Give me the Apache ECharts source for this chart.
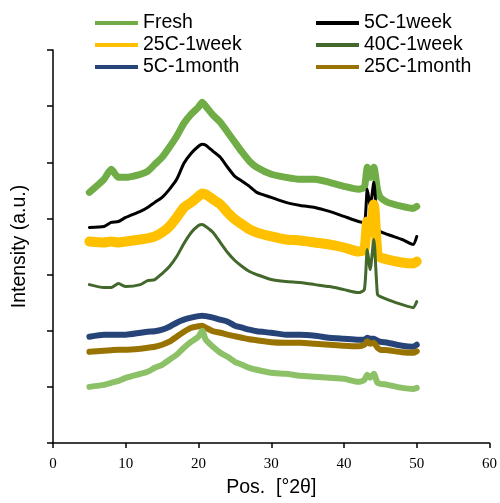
<!DOCTYPE html>
<html>
<head>
<meta charset="utf-8">
<script src="https://cdn.jsdelivr.net/npm/echarts@6/dist/echarts.min.js"></script>
<style>html,body{margin:0;padding:0;background:#fff}#c{width:500px;height:503px}</style>
</head>
<body>
<div id="c"></div>
<script>
// 2-theta positions (degrees)
const pos = [5,7,8,9,10,12,13,14,15,16,17,18,19,20,20.5,21,22,23,24,25,26,27,28,30,32,34,36,38,40,42,42.8,43.2,43.6,44.1,44.6,45,46,48,49.5,50];
// Intensities (a.u., stacked offsets as plotted)
const fresh   = [4464,4696,4875,4732,4732,4786,4839,4964,5089,5268,5464,5696,5857,5982,6071,6000,5839,5714,5536,5357,5179,5018,4911,4786,4732,4696,4696,4643,4571,4518,4554,4911,4732,4911,4518,4375,4286,4214,4179,4214];
const w1_5C   = [3839,3857,3929,3946,4018,4125,4196,4286,4375,4518,4696,4982,5161,5286,5321,5304,5196,5089,4911,4750,4661,4571,4464,4375,4286,4232,4196,4125,4036,3946,3929,4518,4214,4643,3839,3768,3714,3625,3536,3679];
const w1_25C  = [3589,3571,3589,3571,3589,3625,3643,3679,3750,3857,4018,4196,4286,4393,4446,4429,4339,4250,4107,3982,3893,3804,3750,3679,3625,3607,3571,3536,3482,3411,3446,3946,3768,4250,3357,3304,3268,3214,3196,3232];
const w1_40C  = [2821,2768,2768,2839,2786,2821,2893,2911,3018,3143,3321,3554,3750,3875,3893,3857,3750,3571,3393,3250,3143,3054,3000,2911,2875,2857,2821,2786,2732,2679,2732,3446,3089,3625,2643,2607,2554,2464,2411,2518];
const m1_5C   = [1893,1929,1929,1929,1929,1964,1982,1991,2018,2071,2143,2196,2232,2259,2268,2259,2232,2196,2161,2089,2054,2018,1991,1964,1929,1929,1911,1875,1857,1839,1839,1875,1857,1857,1821,1804,1786,1732,1714,1750];
const m1_25C  = [1625,1643,1652,1661,1661,1679,1696,1714,1750,1804,1893,1982,2054,2080,2089,2054,1991,1964,1929,1902,1875,1848,1830,1795,1786,1786,1768,1750,1732,1723,1750,1813,1768,1786,1696,1661,1652,1616,1607,1634];
const m1_40C  = [1000,1036,1071,1107,1161,1232,1268,1339,1393,1482,1571,1696,1804,1893,2000,1839,1714,1607,1536,1446,1393,1339,1304,1250,1232,1196,1179,1161,1143,1089,1125,1214,1161,1232,1071,1054,1036,982,964,982];
const xTicks = [0,10,20,30,40,50,60];

const names  = ['Fresh','5C-1week','25C-1week','40C-1week','5C-1month','25C-1month','40C-1month'];
const values = [fresh, w1_5C, w1_25C, w1_40C, m1_5C, m1_25C, m1_40C];
const colors = ['#70AD47','#000000','#FFC000','#43682B','#264478','#997300','#8CC168'];
const widths = [7,3,10,3,6,6,6];

const series = names.map((n,i)=>({
  name:n, type:'line', symbol:'none', smooth:0.2,
  data: pos.map((p,j)=>[p, values[i][j]]),
  lineStyle:{color:colors[i], width:widths[i], join:'round', cap:'round'},
  itemStyle:{color:colors[i]},
  emphasis:{disabled:true}, animation:false
}));

const legendCommon = {
  orient:'vertical', top:7, icon:'rect', itemWidth:43, itemHeight:4, itemGap:0,
  textStyle:{fontFamily:'Liberation Sans', fontSize:19.5, color:'#000', lineHeight:22},
  selectedMode:false
};

const chart = echarts.init(document.getElementById('c'), null, {renderer:'canvas'});
chart.setOption({
  animation:false,
  backgroundColor:'#fff',
  legend:[
    Object.assign({left:90, data:['Fresh','25C-1week','5C-1month']}, legendCommon),
    Object.assign({left:311, data:['5C-1week','40C-1week','25C-1month']}, legendCommon)
  ],
  grid:{left:53, right:9, top:50, bottom:60, containLabel:false},
  xAxis:{
    type:'value', min:0, max:60, interval:10,
    name:'Pos.  [°2θ]', nameLocation:'middle', nameGap:35,
    nameTextStyle:{fontFamily:'Liberation Sans', fontSize:19.5, color:'#000'},
    axisLine:{show:true, lineStyle:{color:'#000', width:1.5}},
    axisTick:{show:true, inside:false, length:5, lineStyle:{color:'#000', width:1.5}},
    axisLabel:{fontFamily:'Liberation Serif', fontSize:15, color:'#000', margin:14,
      formatter:v=>xTicks.includes(v)?String(v):''},
    splitLine:{show:false}
  },
  yAxis:{
    type:'value', min:0, max:7000, interval:1000,
    name:'Intensity (a.u.)', nameLocation:'middle', nameGap:23,
    nameTextStyle:{fontFamily:'Liberation Sans', fontSize:19.5, color:'#000'},
    axisLine:{show:true, lineStyle:{color:'#000', width:1.5}},
    axisTick:{show:true, inside:false, length:6, lineStyle:{color:'#000', width:1.5}},
    axisLabel:{show:false},
    splitLine:{show:false}
  },
  series
});
</script>
</body>
</html>
